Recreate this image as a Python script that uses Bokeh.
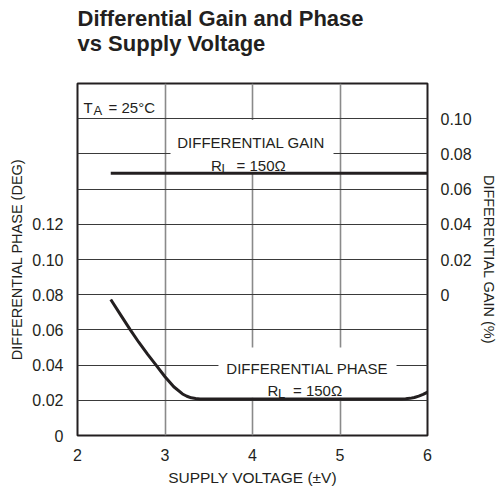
from bokeh.plotting import figure
from bokeh.models import Range1d, LinearAxis, FixedTicker, Label, BoxAnnotation, Title
from bokeh.embed import file_html
from bokeh.resources import INLINE

# ---- data ----
voltage_phase = [2.38, 2.5, 2.6, 2.7, 2.8, 2.9, 3.0, 3.1, 3.2, 3.25, 3.3, 3.35, 3.4,
                 4.0, 5.0, 5.6, 5.7, 5.75, 5.8, 5.85, 5.9, 5.95, 6.0]
phase_deg = [0.0773, 0.0680, 0.0603, 0.0530, 0.0462, 0.0398, 0.0334, 0.0277, 0.0236, 0.0223,
             0.0214, 0.0210, 0.0208, 0.0208, 0.0208, 0.0208, 0.0208, 0.0209, 0.0211, 0.0216,
             0.0224, 0.0234, 0.0246]
voltage_gain = [2.38, 6.0]
gain_pct = [0.069, 0.069]

voltage_ticks = [2, 3, 4, 5, 6]
phase_ticks = [0, 0.02, 0.04, 0.06, 0.08, 0.10, 0.12]
phase_tick_labels = ["0", "0.02", "0.04", "0.06", "0.08", "0.10", "0.12"]
gain_ticks = [0, 0.02, 0.04, 0.06, 0.08, 0.10]
gain_tick_labels = ["0", "0.02", "0.04", "0.06", "0.08", "0.10"]
phase_grid = [0.02, 0.04, 0.06, 0.08, 0.10, 0.12, 0.14, 0.16, 0.18]
title_lines = ["Differential Gain and Phase", "vs Supply Voltage"]

FONT = "Liberation Sans"
INK = "#231f20"

p = figure(width=503, height=491, x_range=Range1d(2, 6), y_range=Range1d(0, 0.2),
           output_backend="svg", toolbar_location=None, title=None,
           min_border_left=77, min_border_right=76, min_border_top=83, min_border_bottom=56)
p.background_fill_color = "white"
p.border_fill_color = "white"
p.outline_line_color = INK
p.outline_line_width = 2

p.extra_y_ranges = {"gain": Range1d(-0.08, 0.12)}

def style_axis(ax, label_size):
    ax.major_tick_in = 0
    ax.major_tick_out = 0
    ax.minor_tick_in = 0
    ax.minor_tick_out = 0
    ax.axis_line_color = None
    ax.major_label_text_font = FONT
    ax.major_label_text_font_size = "16px"
    ax.major_label_text_color = INK
    ax.axis_label_text_font = FONT
    ax.axis_label_text_font_size = label_size
    ax.axis_label_text_font_style = "normal"
    ax.axis_label_text_color = INK

xax = p.xaxis[0]
style_axis(xax, "15.5px")
xax.ticker = FixedTicker(ticks=voltage_ticks)
xax.axis_label = "SUPPLY VOLTAGE (±V)"
xax.major_label_standoff = 13
xax.axis_label_standoff = 5

yax = p.yaxis[0]
style_axis(yax, "14.5px")
yax.ticker = FixedTicker(ticks=phase_ticks)
yax.major_label_overrides = dict(zip(phase_ticks, phase_tick_labels))
yax.axis_label = "DIFFERENTIAL PHASE (DEG)"
yax.major_label_standoff = 14
yax.axis_label_standoff = 4

rax = LinearAxis(y_range_name="gain")
style_axis(rax, "14.5px")
rax.ticker = FixedTicker(ticks=gain_ticks)
rax.major_label_overrides = dict(zip(gain_ticks, gain_tick_labels))
rax.axis_label = "DIFFERENTIAL GAIN (%)"
rax.major_label_standoff = 13
rax.axis_label_standoff = 6
p.add_layout(rax, "right")

p.xgrid.ticker = FixedTicker(ticks=voltage_ticks[1:-1])
p.xgrid.grid_line_color = "#8a8a8a"
p.xgrid.grid_line_width = 1.6
p.ygrid.ticker = FixedTicker(ticks=phase_grid)
p.ygrid.grid_line_color = "#3a3a3a"
p.ygrid.grid_line_width = 1

# white boxes behind the curve labels
p.add_layout(BoxAnnotation(left=3.063, right=4.926, bottom=0.1497, top=0.1792,
                           fill_color="white", fill_alpha=1.0, line_color=None, level="underlay"))
p.add_layout(BoxAnnotation(left=3.611, right=5.646, bottom=0.0215, top=0.050,
                           fill_color="white", fill_alpha=1.0, line_color=None, level="underlay"))

p.line(voltage_gain, gain_pct, y_range_name="gain", line_color=INK, line_width=3)
p.line(voltage_phase, phase_deg, line_color=INK, line_width=3, line_join="round")

def lab(x, y, text, size="15px", align="left", xo=0, yo=0):
    p.add_layout(Label(x=x, y=y, text=text, x_offset=xo, y_offset=yo, text_align=align,
                       text_baseline="alphabetic", text_font=FONT, text_font_size=size,
                       text_color=INK))

# T_A = 25°C
lab(2.069, 0.1864, "T")
lab(2.069, 0.1864, "A", size="13px", xo=10, yo=-3)
lab(2.069, 0.1864, "= 25°C", xo=25)

# gain label
lab(3.983, 0.1665, "DIFFERENTIAL GAIN", align="center")
lab(3.526, 0.1534, "R")
lab(3.526, 0.1534, "L", size="13px", xo=10.5, yo=-3)
lab(3.526, 0.1534, "= 150Ω", xo=25.5)

# phase label
lab(4.625, 0.0379, "DIFFERENTIAL PHASE", align="center")
lab(4.171, 0.0256, "R")
lab(4.171, 0.0256, "L", size="13px", xo=10.5, yo=-3)
lab(4.171, 0.0256, "= 150Ω", xo=25.5)

# two-line title; a blank third line lifts the text block away from the frame
p.add_layout(Title(text="\n".join(title_lines) + "\n\u00a0", align="left",
                   text_font=FONT, text_font_size="22px", text_font_style="bold",
                   text_color=INK, text_line_height=1.0, standoff=5), "above")

open("out.html", "w").write(file_html(p, INLINE))
